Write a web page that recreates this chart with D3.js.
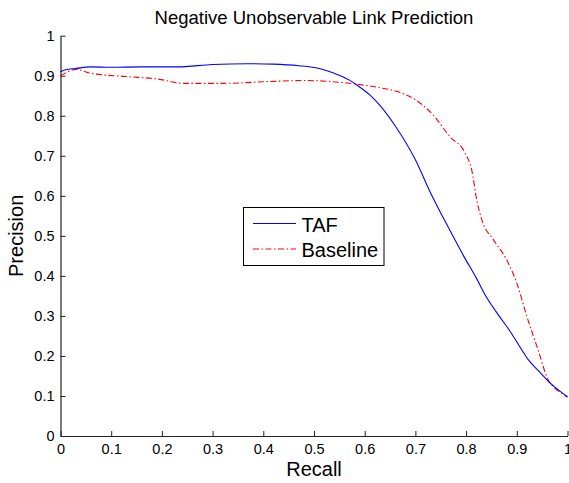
<!DOCTYPE html>
<html>
<head>
<meta charset="utf-8">
<script src="https://cdn.jsdelivr.net/npm/d3@7"></script>
<style>
  html, body { margin: 0; padding: 0; background: #fff; }
  text { font-family: "Liberation Sans", Arial, Helvetica, sans-serif; fill: #000; }
</style>
</head>
<body>
<svg id="chart" width="569" height="483"></svg>
<script>
const title = "Negative Unobservable Link Prediction";
const xLabel = "Recall";
const yLabel = "Precision";
const seriesNames = ["TAF", "Baseline"];
const xTicks = [0, 0.1, 0.2, 0.3, 0.4, 0.5, 0.6, 0.7, 0.8, 0.9, 1];
const yTicks = [0, 0.1, 0.2, 0.3, 0.4, 0.5, 0.6, 0.7, 0.8, 0.9, 1];

const tafRecall = [0, 0.01, 0.03, 0.06, 0.1, 0.16, 0.23, 0.3, 0.37, 0.42, 0.47, 0.51, 0.54, 0.57, 0.59, 0.61, 0.63, 0.66, 0.7, 0.73, 0.755, 0.775, 0.795, 0.82, 0.84, 0.865, 0.887, 0.905, 0.923, 0.945, 0.966, 0.985, 1.0];
const tafPrecision = [0.91, 0.915, 0.918, 0.922, 0.921, 0.922, 0.922, 0.928, 0.93, 0.929, 0.925, 0.918, 0.906, 0.889, 0.872, 0.852, 0.826, 0.775, 0.69, 0.607, 0.545, 0.497, 0.45, 0.395, 0.347, 0.3, 0.261, 0.225, 0.19, 0.16, 0.132, 0.112, 0.098];

const baseRecall = [0, 0.01, 0.03, 0.06, 0.13, 0.19, 0.245, 0.32, 0.42, 0.48, 0.59, 0.63, 0.67, 0.7, 0.735, 0.768, 0.798, 0.811, 0.821, 0.831, 0.854, 0.88, 0.9, 0.92, 0.942, 0.962, 0.972, 0.985, 1.0];
const basePrecision = [0.9, 0.907, 0.916, 0.906, 0.898, 0.892, 0.881, 0.881, 0.886, 0.888, 0.878, 0.87, 0.858, 0.84, 0.802, 0.748, 0.707, 0.665, 0.59, 0.54, 0.49, 0.44, 0.382, 0.298, 0.215, 0.14, 0.123, 0.11, 0.097];

const svg = d3.select("#chart");
const mLeft = 60.5, mRight = 567.5, mTop = 35.7, mBottom = 436;

const x = d3.scaleLinear().domain([0, 1]).range([mLeft, mRight]);
const y = d3.scaleLinear().domain([0, 1]).range([mBottom, mTop]);

// axes
const xAxis = d3.axisBottom(x).tickValues(xTicks).tickFormat(d3.format("")).tickSizeInner(-5).tickSizeOuter(0).tickPadding(8);
const yAxis = d3.axisLeft(y).tickValues(yTicks).tickFormat(d3.format("")).tickSizeInner(-5).tickSizeOuter(0).tickPadding(6);

const gx = svg.append("g").attr("transform", `translate(0,${mBottom})`).call(xAxis);
const gy = svg.append("g").attr("transform", `translate(${mLeft},0)`).call(yAxis);
[gx, gy].forEach(g => {
  g.select(".domain").attr("stroke", "#222").attr("stroke-width", 1.2);
  g.selectAll(".tick line").attr("stroke", "#222").attr("stroke-width", 1);
  g.selectAll(".tick text").attr("font-size", 14.5).attr("font-family", "Liberation Sans, Arial, sans-serif").attr("fill", "#000");
});

// lines
const line = d3.line().x(d => x(d[0])).y(d => y(d[1])).curve(d3.curveMonotoneX);
const tafData = tafRecall.map((r, i) => [r, tafPrecision[i]]);
const baseData = baseRecall.map((r, i) => [r, basePrecision[i]]);

svg.append("path").datum(baseData).attr("d", line)
  .attr("fill", "none").attr("stroke", "#ff0000").attr("stroke-width", 1.1)
  .attr("stroke-dasharray", "6,2.5,1.5,2.5");
svg.append("path").datum(tafData).attr("d", line)
  .attr("fill", "none").attr("stroke", "#0000ff").attr("stroke-width", 1.1);

// title & labels
svg.append("text").attr("x", (mLeft + mRight) / 2).attr("y", 23.5)
  .attr("text-anchor", "middle").attr("font-size", 18.5).text(title);
svg.append("text").attr("x", (mLeft + mRight) / 2).attr("y", 476)
  .attr("text-anchor", "middle").attr("font-size", 20).text(xLabel);
svg.append("text").attr("transform", `translate(23,${(mTop + mBottom) / 2}) rotate(-90)`)
  .attr("text-anchor", "middle").attr("font-size", 20).text(yLabel);

// legend
const lg = svg.append("g");
lg.append("rect").attr("x", 243.5).attr("y", 207.5).attr("width", 140.5).attr("height", 58)
  .attr("fill", "#fff").attr("stroke", "#000").attr("stroke-width", 1);
const legendStyles = [
  { color: "#0000ff", dash: null },
  { color: "#ff0000", dash: "6,2.5,1.5,2.5" }
];
seriesNames.forEach((name, i) => {
  const ly = 223.5 + i * 25.5;
  lg.append("line").attr("x1", 253).attr("x2", 296).attr("y1", ly).attr("y2", ly)
    .attr("stroke", legendStyles[i].color).attr("stroke-width", 1.1)
    .attr("stroke-dasharray", legendStyles[i].dash);
  lg.append("text").attr("x", 301.5).attr("y", ly + 8).attr("font-size", 20).text(name);
});
</script>
</body>
</html>
